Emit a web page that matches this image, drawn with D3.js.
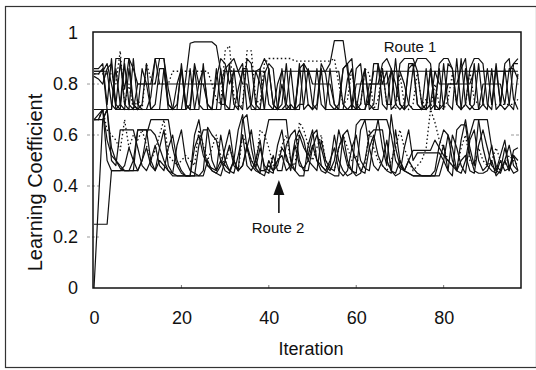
<!DOCTYPE html>
<html><head><meta charset="utf-8">
<script src="https://cdn.jsdelivr.net/npm/d3@7"></script>
<style>body{margin:0;background:#fff}svg{display:block}text{font-family:"Liberation Sans",Arial,sans-serif;fill:#111}</style>
</head><body>
<svg id="chart" width="536" height="370"></svg>
<script>
// ---------- data ----------
const xTicks = [0, 20, 40, 60, 80];
const yTicks = [0, 0.2, 0.4, 0.6, 0.8, 1];
const yTickLabels = ["0", "0.2", "0.4", "0.6", "0.8", "1"];
const xLabel = "Iteration";
const yLabel = "Learning Coefficient";

// Route 1 (upper band), values per iteration 0..97
const route1A = [.85,.85,.85,.88,.80,.72,.70,.70,.70,.70, .70,.70,.70,.70,.70,.70,.70,.70,.70,.70,
  .70,.82,.96,.965,.965,.965,.965,.965,.95,.85, .72,.70,.70,.78,.85,.85,.85,.85,.80,.70,
  .70,.70,.80,.85,.85,.85,.85,.85,.85,.85, .85,.85,.85,.85,.88,.97,.97,.97,.85,.72,
  .70,.70,.70,.75,.85,.85,.85,.85,.85,.85, .85,.80,.72,.70,.70,.70,.70,.72,.85,.85,
  .85,.85,.85,.85,.85,.85,.85,.85,.85,.85, .85,.85,.85,.85,.85,.85,.88,.88];
const route1B = [.84,.84,.86,.70,.70,.90,.90,.72,.70,.90, .72,.70,.70,.75,.90,.90,.90,.78,.70,.70,
  .70,.70,.86,.70,.70,.88,.70,.70,.82,.90, .88,.80,.85,.85,.88,.70,.72,.85,.86,.70,
  .70,.70,.70,.72,.88,.70,.70,.70,.88,.85, .72,.70,.86,.70,.70,.70,.72,.86,.88,.70,
  .70,.80,.86,.70,.72,.88,.80,.85,.70,.72, .88,.90,.90,.90,.85,.72,.70,.86,.70,.70,
  .88,.72,.70,.90,.70,.72,.86,.90,.90,.88, .72,.70,.86,.72,.88,.90,.74,.70];
const route1C = [.83,.82,.80,.86,.88,.72,.88,.78,.90,.86, .80,.80,.80,.80,.80,.90,.90,.72,.70,.80,
  .86,.72,.70,.70,.80,.80,.80,.80,.80,.80, .86,.88,.90,.85,.80,.80,.70,.70,.70,.84,
  .88,.86,.70,.70,.72,.86,.70,.72,.72,.86, .80,.80,.80,.80,.80,.72,.70,.70,.82,.86,
  .72,.70,.70,.80,.80,.80,.88,.90,.86,.80, .72,.70,.72,.86,.90,.90,.90,.88,.72,.70,
  .72,.80,.80,.80,.86,.90,.72,.70,.70,.80, .80,.80,.80,.80,.72,.86,.86,.82];
const route1D = [.70,.70,.70,.70,.70,.86,.72,.70,.86,.72, .70,.86,.80,.70,.70,.70,.86,.72,.70,.70,
  .88,.72,.70,.86,.72,.70,.70,.70,.70,.86, .70,.70,.86,.72,.70,.90,.88,.72,.70,.70,
  .86,.72,.70,.80,.70,.72,.70,.88,.70,.72, .70,.86,.72,.70,.86,.72,.70,.70,.70,.72,
  .86,.88,.72,.72,.70,.70,.86,.72,.72,.90, .72,.70,.88,.88,.72,.70,.86,.70,.72,.86,
  .70,.88,.86,.72,.90,.72,.70,.72,.88,.72, .70,.86,.70,.72,.70,.72,.88,.90];
const route1E = [.85,.85,.85,.85,.72,.70,.70,.88,.72,.70, .80,.80,.80,.80,.90,.80,.80,.80,.80,.80,
  .80,.80,.80,.80,.80,.86,.72,.70,.70,.70, .85,.85,.85,.85,.85,.85,.85,.85,.85,.85,
  .72,.70,.70,.70,.70,.70,.70,.85,.85,.85, .85,.85,.85,.85,.85,.85,.85,.72,.70,.70,
  .80,.80,.80,.80,.80,.80,.80,.80,.85,.85, .85,.85,.85,.85,.85,.85,.85,.85,.85,.80,
  .80,.80,.80,.80,.80,.80,.80,.85,.85,.85, .85,.85,.85,.85,.85,.85,.85,.85];
const route1F = [.86,.86,.88,.72,.90,.70,.72,.90,.90,.72, .70,.72,.88,.70,.72,.86,.86,.70,.70,.72,
  .86,.70,.72,.88,.80,.80,.72,.70,.86,.72, .72,.88,.72,.70,.86,.86,.72,.70,.86,.90,
  .86,.72,.70,.86,.72,.70,.70,.86,.88,.72, .70,.72,.88,.84,.72,.70,.70,.86,.88,.90,
  .70,.72,.86,.72,.88,.88,.72,.70,.86,.72, .70,.72,.86,.88,.72,.70,.72,.86,.70,.88,
  .90,.90,.86,.72,.70,.86,.72,.88,.70,.72, .86,.72,.88,.72,.86,.72,.70,.84];
const route1Dotted = [.84,.84,.84,.84,.84,.80,.93,.72,.80,.70, .74,.70,.88,.82,.80,.80,.80,.80,.85,.85,
  .85,.85,.85,.85,.85,.85,.85,.80,.74,.72, .93,.95,.75,.70,.72,.93,.93,.74,.72,.88,
  .90,.90,.90,.90,.90,.90,.89,.89,.89,.89, .89,.89,.89,.89,.89,.90,.80,.72,.74,.86,
  .72,.72,.86,.84,.70,.74,.86,.72,.72,.70, .84,.72,.70,.72,.85,.72,.74,.70,.80,.72,
  .70,.74,.84,.72,.70,.72,.85,.74,.72,.72, .72,.72,.72,.72,.72,.72,.72,.74];

// Route 2 (lower band)
const route2A = [0,.33,.66,.70,.55,.50,.47,.46,.46,.46, .46,.50,.60,.66,.66,.66,.66,.66,.55,.48,
  .45,.44,.44,.60,.66,.55,.48,.46,.45,.44, .50,.56,.48,.46,.66,.68,.55,.47,.45,.58,
  .66,.66,.66,.66,.66,.50,.46,.44,.44,.56, .62,.50,.46,.45,.48,.60,.50,.46,.44,.45,
  .64,.66,.66,.66,.66,.66,.55,.48,.68,.55, .48,.46,.45,.44,.44,.44,.44,.44,.44,.50,
  .56,.46,.44,.62,.64,.64,.52,.46,.45,.45, .46,.50,.44,.46,.55,.48,.45,.46];
const route2B = [.25,.25,.25,.25,.46,.46,.46,.46,.46,.46, .62,.62,.62,.50,.46,.55,.62,.48,.45,.44,
  .44,.44,.44,.44,.56,.62,.62,.50,.46,.60, .50,.46,.45,.52,.60,.48,.46,.50,.58,.46,
  .45,.52,.46,.46,.56,.60,.62,.50,.46,.46, .55,.60,.55,.48,.46,.50,.62,.55,.48,.46,
  .45,.62,.66,.55,.48,.46,.50,.58,.46,.44, .45,.55,.62,.50,.53,.53,.53,.53,.53,.53,
  .50,.46,.60,.55,.48,.45,.58,.62,.50,.46, .48,.56,.46,.52,.58,.46,.52,.50];
const route2C = [.66,.66,.66,.70,.50,.48,.62,.62,.62,.62, .55,.48,.46,.50,.56,.48,.46,.55,.60,.50,
  .46,.44,.44,.44,.44,.44,.50,.46,.45,.48, .55,.62,.50,.46,.48,.56,.50,.47,.55,.48,
  .46,.45,.56,.62,.50,.48,.46,.60,.55,.52, .60,.62,.48,.46,.50,.55,.46,.44,.46,.55,
  .60,.50,.47,.46,.58,.66,.66,.66,.60,.50, .47,.46,.50,.47,.45,.44,.44,.44,.46,.56,
  .62,.60,.50,.46,.58,.66,.55,.48,.66,.66, .66,.55,.48,.46,.50,.46,.54,.55];
const route2D = [.66,.68,.70,.50,.46,.46,.46,.48,.55,.50, .62,.62,.62,.62,.60,.55,.50,.46,.44,.44,
  .44,.44,.44,.55,.60,.52,.48,.47,.46,.50, .46,.45,.50,.62,.68,.55,.48,.46,.45,.44,
  .50,.46,.48,.55,.52,.46,.56,.48,.47,.50, .56,.50,.48,.46,.45,.44,.44,.60,.62,.55,
  .50,.46,.45,.55,.60,.52,.48,.46,.45,.62, .50,.46,.45,.44,.44,.44,.44,.44,.44,.44,
  .50,.60,.55,.46,.45,.50,.60,.66,.66,.55, .48,.46,.45,.50,.46,.47,.52,.46];
const route2E = [.66,.66,.70,.58,.52,.50,.48,.46,.46,.50, .46,.50,.55,.48,.46,.50,.48,.46,.45,.56,
  .62,.50,.46,.45,.44,.46,.63,.60,.58,.50, .48,.46,.50,.46,.48,.55,.62,.50,.46,.46,
  .48,.46,.50,.52,.46,.48,.58,.62,.58,.50, .48,.46,.58,.50,.47,.46,.55,.60,.50,.46,
  .44,.45,.50,.60,.62,.62,.62,.50,.46,.45, .50,.46,.50,.54,.54,.54,.54,.54,.58,.55,
  .52,.50,.48,.46,.50,.52,.46,.45,.56,.62, .55,.48,.46,.45,.50,.56,.48,.46];
const route2Dotted = [.66,.66,.70,.62,.60,.58,.54,.66,.55,.60, .58,.62,.56,.50,.54,.60,.66,.52,.50,.48,
  .50,.52,.50,.48,.62,.56,.50,.55,.60,.52, .48,.55,.50,.46,.60,.55,.50,.48,.62,.60,
  .55,.48,.50,.56,.60,.50,.48,.65,.62,.56, .50,.55,.60,.50,.48,.46,.55,.60,.55,.50,
  .52,.46,.48,.62,.55,.50,.48,.46,.50,.55, .62,.55,.50,.46,.48,.50,.55,.70,.65,.58,
  .55,.50,.48,.46,.55,.60,.50,.48,.55,.50, .48,.50,.55,.50,.48,.52,.50,.48];

const solidSeries = [route1A, route1B, route1C, route1D, route1E, route1F,
                     route2A, route2B, route2C, route2D, route2E];
const dottedSeries = [route1Dotted, route2Dotted];

// annotations in data units
const route1Label = {text: "Route 1", x: 66.3, y: 0.925};
const route2Label = {text: "Route 2", x: 42.1, y: 0.216};
const route2Arrow = {x: 42.3, yTip: 0.424, yTail: 0.294};

// ---------- drawing ----------
const svg = d3.select("#chart");
const x = d3.scaleLinear().domain([-0.23, 97.7]).range([93, 521]);
const y = d3.scaleLinear().domain([0, 1.004]).range([288, 32]);

// outer border
svg.append("rect").attr("x", 5.5).attr("y", 6.5).attr("width", 531).attr("height", 361)
  .attr("fill", "none").attr("stroke", "#333").attr("stroke-width", 1.2);

// light tick crosses on the left y axis, short inner ticks on the right
const yInner = yTicks.filter(v => v > 0 && v < 1);
svg.append("g").selectAll("line").data(yInner).join("line")
  .attr("x1", x.range()[0] - 6).attr("x2", x.range()[0] + 6)
  .attr("y1", d => y(d)).attr("y2", d => y(d))
  .attr("stroke", "#999").attr("stroke-width", 1).attr("stroke-dasharray", "3,2");
svg.append("g").selectAll("line").data(yInner.filter(v => v > 0.5)).join("line")
  .attr("x1", x.range()[1] - 10).attr("x2", x.range()[1])
  .attr("y1", d => y(d)).attr("y2", d => y(d))
  .attr("stroke", "#999").attr("stroke-width", 1).attr("stroke-dasharray", "3,2");
// small x ticks inside
svg.append("g").selectAll("line").data(xTicks.slice(1)).join("line")
  .attr("x1", d => x(d)).attr("x2", d => x(d))
  .attr("y1", y(0)).attr("y2", y(0) - 3)
  .attr("stroke", "#777").attr("stroke-width", 1);

// lines
const line = d3.line().x((d, i) => x(i)).y(d => y(d));
const g = svg.append("g").attr("fill", "none").attr("stroke", "#111").attr("stroke-linejoin", "round");
g.selectAll("path.solid").data(solidSeries).join("path").attr("class", "solid")
  .attr("d", line).attr("stroke-width", 1.2);
g.selectAll("path.dot").data(dottedSeries).join("path").attr("class", "dot")
  .attr("d", line).attr("stroke-width", 1.3).attr("stroke-dasharray", "1.5,2.5");

// plot frame
svg.append("rect").attr("x", x.range()[0]).attr("y", y.range()[1])
  .attr("width", x.range()[1] - x.range()[0]).attr("height", y.range()[0] - y.range()[1])
  .attr("fill", "none").attr("stroke", "#111").attr("stroke-width", 1.5);

// axes
const yAxis = d3.axisLeft(y).tickValues(yTicks).tickSize(0).tickPadding(15)
  .tickFormat((d, i) => yTickLabels[i]);
const ya = svg.append("g").attr("transform", `translate(${x.range()[0]},0)`).call(yAxis);
ya.select(".domain").remove();
ya.selectAll("text").attr("font-size", 18).attr("font-family", "Liberation Sans, Arial, sans-serif").attr("fill", "#111");

const xAxis = d3.axisBottom(x).tickValues(xTicks).tickSize(0).tickPadding(23);
const xa = svg.append("g").attr("transform", `translate(0,${y.range()[0]})`).call(xAxis);
xa.select(".domain").remove();
xa.selectAll("text").attr("font-size", 18).attr("font-family", "Liberation Sans, Arial, sans-serif").attr("fill", "#111");

// axis titles
svg.append("text").attr("x", 311).attr("y", 355).attr("text-anchor", "middle")
  .attr("font-size", 18).text(xLabel);
svg.append("text").attr("transform", "translate(42,182.5) rotate(-90)").attr("text-anchor", "middle")
  .attr("font-size", 20).text(yLabel);

// annotations
svg.append("text").attr("x", x(route1Label.x)).attr("y", y(route1Label.y))
  .attr("font-size", 15).text(route1Label.text);
svg.append("text").attr("x", x(route2Label.x)).attr("y", y(route2Label.y)).attr("text-anchor", "middle")
  .attr("font-size", 15).text(route2Label.text);
const ax = x(route2Arrow.x), tipY = y(route2Arrow.yTip), tailY = y(route2Arrow.yTail);
svg.append("line").attr("x1", ax).attr("x2", ax).attr("y1", tipY + 12).attr("y2", tailY)
  .attr("stroke", "#111").attr("stroke-width", 1.6);
svg.append("path").attr("d", `M${ax},${tipY} L${ax - 5.5},${tipY + 15} L${ax + 5.5},${tipY + 15} Z`)
  .attr("fill", "#111");
</script>
</body></html>
